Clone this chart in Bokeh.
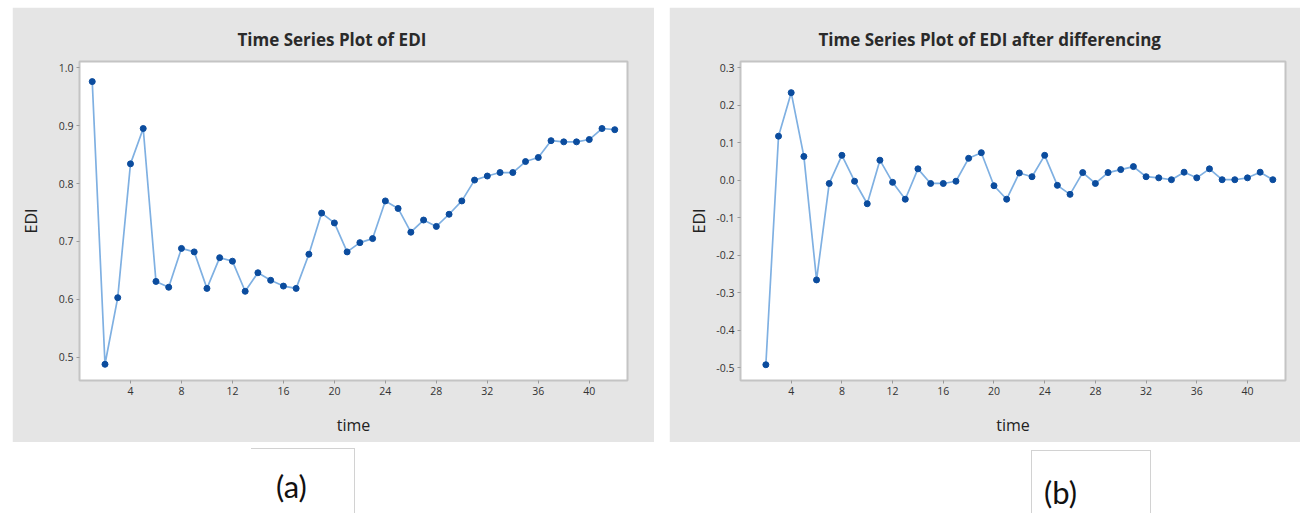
from bokeh.plotting import figure
from bokeh.layouts import row, column, Spacer
from bokeh.models import FixedTicker, Div, ColumnDataSource
from bokeh.embed import file_html
from bokeh.resources import INLINE

# ---------------- data ----------------
time_a = [1, 2, 3, 4, 5, 6, 7, 8, 9, 10, 11, 12, 13, 14, 15, 16, 17, 18, 19, 20, 21,
          22, 23, 24, 25, 26, 27, 28, 29, 30, 31, 32, 33, 34, 35, 36, 37, 38, 39, 40, 41, 42]
edi = [0.976, 0.488, 0.603, 0.834, 0.895, 0.631, 0.621, 0.688, 0.682, 0.619, 0.672,
       0.666, 0.614, 0.646, 0.633, 0.623, 0.619, 0.678, 0.749, 0.732, 0.682, 0.698,
       0.705, 0.770, 0.757, 0.716, 0.737, 0.726, 0.747, 0.770, 0.806, 0.813, 0.819,
       0.819, 0.838, 0.845, 0.874, 0.872, 0.872, 0.876, 0.895, 0.893]

time_b = [2, 3, 4, 5, 6, 7, 8, 9, 10, 11, 12, 13, 14, 15, 16, 17, 18, 19, 20, 21,
          22, 23, 24, 25, 26, 27, 28, 29, 30, 31, 32, 33, 34, 35, 36, 37, 38, 39, 40, 41, 42]
edi_diff = [-0.492, 0.117, 0.233, 0.063, -0.266, -0.009, 0.066, -0.003, -0.063, 0.053,
            -0.006, -0.051, 0.030, -0.009, -0.009, -0.003, 0.058, 0.073, -0.015, -0.051,
            0.019, 0.009, 0.066, -0.014, -0.038, 0.020, -0.009, 0.020, 0.028, 0.036,
            0.009, 0.006, 0.001, 0.021, 0.006, 0.030, 0.001, 0.001, 0.006, 0.021, 0.001]

x_ticks = [4, 8, 12, 16, 20, 24, 28, 32, 36, 40]
y_ticks_a = [0.5, 0.6, 0.7, 0.8, 0.9, 1.0]
y_labels_a = ["0.5", "0.6", "0.7", "0.8", "0.9", "1.0"]
y_ticks_b = [-0.5, -0.4, -0.3, -0.2, -0.1, 0.0, 0.1, 0.2, 0.3]
y_labels_b = ["-0.5", "-0.4", "-0.3", "-0.2", "-0.1", "0.0", "0.1", "0.2", "0.3"]

title_a = "Time Series Plot of EDI"
title_b = "Time Series Plot of EDI after differencing"
x_label = "time"
y_label = "EDI"
caption_a = "(a)"
caption_b = "(b)"

# ---------------- style ----------------
PANEL = "#e5e5e5"
FRAME = "#c4c4c4"
LINE = "#7fb0e2"
MARK = "#0b4c9e"
FONT = "Open Sans"


def make_panel(x, y, title, yr, yticks, ylabels, width, mbl, mbr, title_offset, ylab_standoff):
    p = figure(width=width, height=435, x_range=(0, 43), y_range=yr,
               output_backend="svg", toolbar_location=None,
               min_border_left=mbl, min_border_right=mbr,
               min_border_top=54, min_border_bottom=62,
               border_fill_color=PANEL, background_fill_color="white",
               outline_line_color=FRAME, outline_line_width=2)
    p.title.text = title
    p.title.text_font = FONT
    p.title.text_font_size = "17px"
    p.title.text_font_style = "bold"
    p.title.text_color = "#2a2a2a"
    p.title.align = "left"
    p.title.offset = title_offset
    p.title.standoff = 22

    p.grid.visible = False
    for ax in (p.xaxis[0], p.yaxis[0]):
        ax.axis_line_color = None
        ax.major_tick_line_color = "#9a9a9a"
        ax.major_tick_in = 0
        ax.major_tick_out = 3
        ax.minor_tick_line_color = None
        ax.major_label_text_font = FONT
        ax.major_label_text_font_size = "10.5px"
        ax.major_label_text_color = "#333333"
        ax.axis_label_text_font = FONT
        ax.axis_label_text_font_size = "16px"
        ax.axis_label_text_font_style = "normal"
        ax.axis_label_text_color = "#222222"

    p.xaxis.ticker = FixedTicker(ticks=x_ticks)
    p.xaxis.axis_label = x_label
    p.xaxis.major_label_standoff = 3
    p.xaxis.axis_label_standoff = 16

    p.yaxis.ticker = FixedTicker(ticks=yticks)
    p.yaxis.major_label_overrides = {t: l for t, l in zip(yticks, ylabels)}
    p.yaxis.axis_label = y_label
    p.yaxis.major_label_standoff = 3
    p.yaxis.axis_label_standoff = ylab_standoff

    src = ColumnDataSource(dict(x=x, y=y))
    p.line("x", "y", source=src, line_color=LINE, line_width=1.7)
    p.scatter("x", "y", source=src, size=6, fill_color=MARK, line_color=MARK)
    return p


pa = make_panel(time_a, edi, title_a, (0.46, 1.0107), y_ticks_a, y_labels_a,
                642, 67, 27, 158, 14)
pb = make_panel(time_b, edi_diff, title_b, (-0.534, 0.316), y_ticks_b, y_labels_b,
                631, 71, 15, 78, 3)

cap_style = ("font-family:Lato, 'Open Sans', sans-serif; font-size:31px; color:#111;"
             "box-sizing:border-box;")
div_a = Div(text=(f'<div style="{cap_style} margin-top:1px; height:70px; width:104px;'
                  f'border-top:1px solid #d2d2d2; border-right:1px solid #d2d2d2;'
                  f'padding-left:25px; padding-top:20px; line-height:34px;">{caption_a}</div>'),
            width=104, height=71)
div_b = Div(text=(f'<div style="{cap_style} margin-top:3px; height:68px; width:120px;'
                  f'border-top:1px solid #d2d2d2; border-right:1px solid #d2d2d2;'
                  f'border-left:1px solid #d2d2d2;'
                  f'padding-left:12px; padding-top:24px; line-height:34px;">{caption_b}</div>'),
            width=120, height=71)

top = row(Spacer(width=12, height=435), pa, Spacer(width=15, height=435), pb)
bottom = row(Spacer(width=246, height=71), div_a, Spacer(width=666, height=71), div_b)
layout = column(Spacer(width=10, height=7), top, bottom)

open("out.html", "w").write(file_html(layout, INLINE))
